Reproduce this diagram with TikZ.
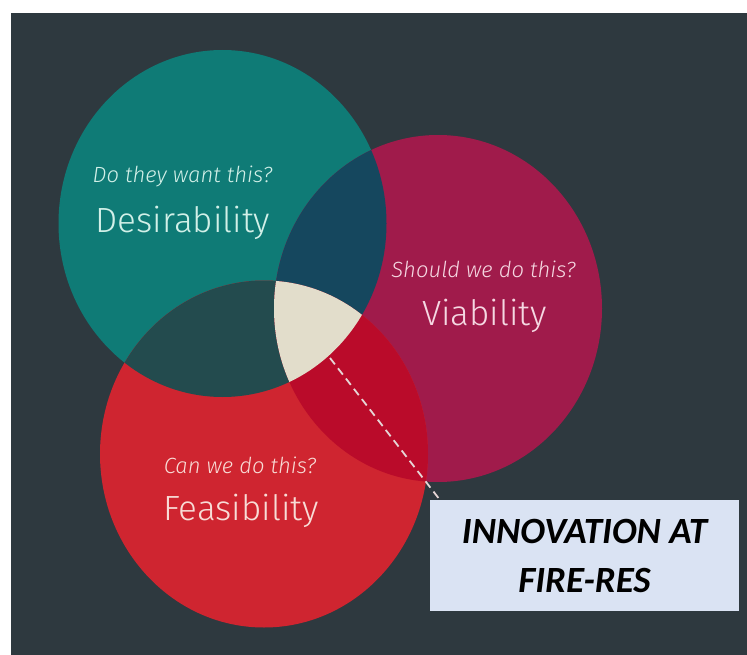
\documentclass[tikz,border=0pt]{standalone}
\usepackage{fontspec}
\setmainfont{Fira Sans Light}
\newfontfamily\boxfont{Carlito}
\usetikzlibrary{calc}

\definecolor{bgdark}{HTML}{2E393F}
\definecolor{desire}{HTML}{0F7B76}
\definecolor{viable}{HTML}{A01B4B}
\definecolor{feasible}{HTML}{CF2530}
\definecolor{desviab}{HTML}{15475E}
\definecolor{desfeas}{HTML}{234B4E}
\definecolor{viabfeas}{HTML}{BA0B2A}
\definecolor{allthree}{HTML}{E2DDCB}
\definecolor{boxfill}{HTML}{DAE3F3}
\definecolor{mintext}{HTML}{D2F0E8}
\definecolor{pinktext}{HTML}{F5D8E2}
\definecolor{redtext}{HTML}{F8DCD6}
\definecolor{dashcol}{HTML}{E6D6D6}

\tikzset{
  question/.style={anchor=base, font=\itshape\fontsize{22}{26}\selectfont},
  title/.style={anchor=base, font=\fontsize{35}{42}\selectfont},
  callout/.style={fill=boxfill, inner sep=0pt, minimum width=309pt, minimum height=111pt,
    align=center, font=\boxfont\bfseries\itshape\fontsize{37}{49}\selectfont, text=black},
  pointer/.style={draw=dashcol, line width=1.8pt, dash pattern=on 8pt off 5pt}
}

\newcommand{\desE}{(222.5,223.5) ellipse [x radius=164pt, y radius=173.5pt]}
\newcommand{\viaE}{(438,308.5) ellipse [x radius=164pt, y radius=173.5pt]}
\newcommand{\feaE}{(264,454) ellipse [x radius=164pt, y radius=173.5pt]}

\begin{document}
\begin{tikzpicture}[x=1pt, y=-1pt]
  \useasboundingbox (0,0) rectangle (747,655);
  \fill[white] (0,0) rectangle (747,655);
  \fill[bgdark] (11,13) rectangle (747,655);

  % the three sets
  \fill[desire] \desE;
  \fill[viable] \viaE;
  \fill[feasible] \feaE;

  % pairwise overlaps
  \begin{scope}
    \clip \desE;
    \fill[desviab] \viaE;
    \fill[desfeas] \feaE;
  \end{scope}
  \begin{scope}
    \clip \viaE;
    \fill[viabfeas] \feaE;
  \end{scope}

  % the centre, where all three meet
  \begin{scope}
    \clip \desE;
    \clip \viaE;
    \fill[allthree] \feaE;
  \end{scope}

  % labels
  \node[question, text=mintext] (desq) at (182.5,183) {Do they want this?};
  \node[title, text=mintext] (dest) at (183,233) {Desirability};
  \node[question, text=pinktext] (viaq) at (483.5,277) {Should we do this?};
  \node[title, text=pinktext] (viat) at (484.5,325) {Viability};
  \node[question, text=redtext] (feaq) at (240,473) {Can we do this?};
  \node[title, text=redtext] (feat) at (241,520) {Feasibility};

  % callout box and its pointer
  \node[callout] (box) at (584.5,555.5) {INNOVATION AT\\FIRE-RES};
  \coordinate (centre) at (330,358);
  \coordinate (tip) at (440,500);
  \draw[pointer] (centre) -- (tip);
\end{tikzpicture}
\end{document}
